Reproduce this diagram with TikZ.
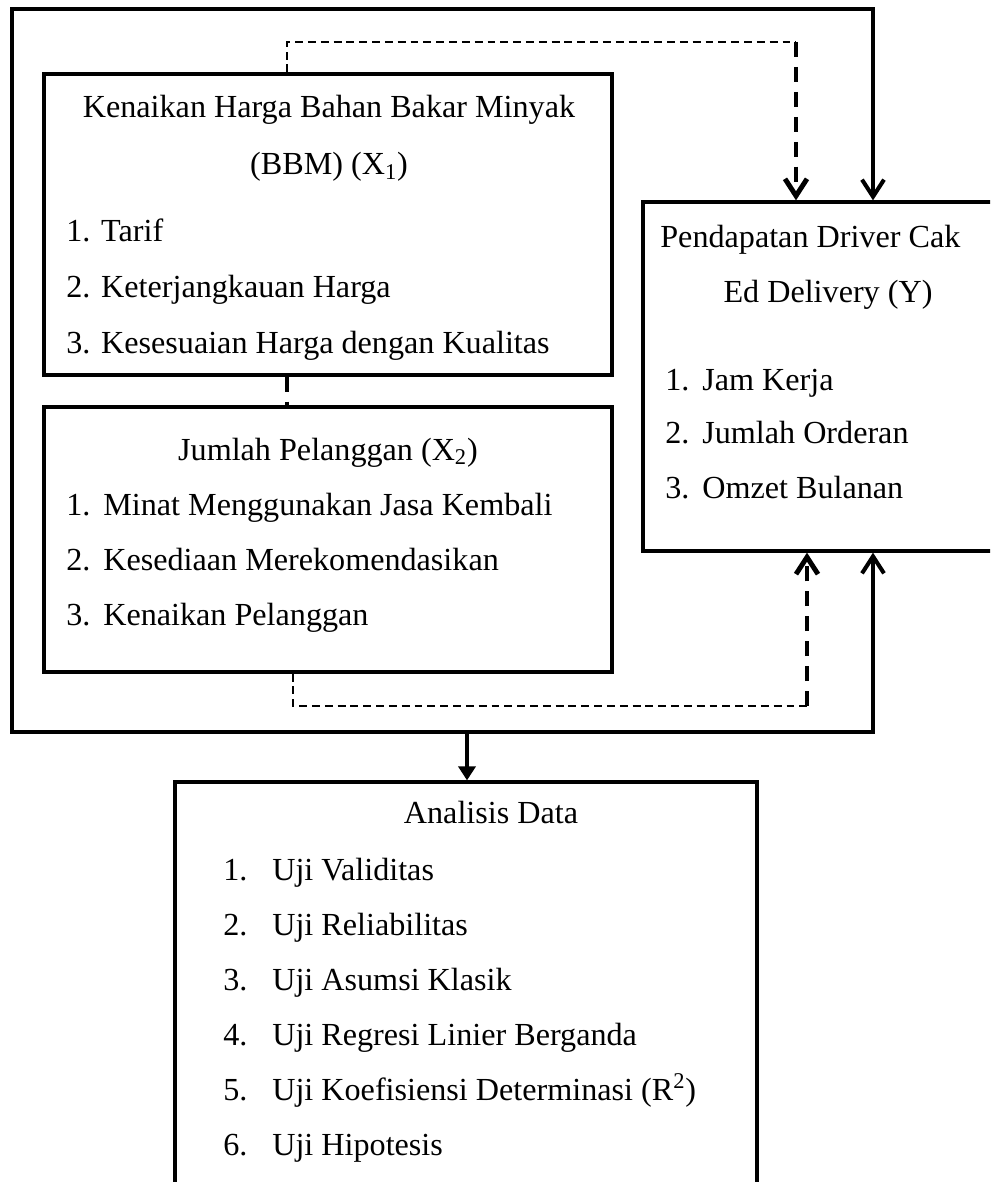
\documentclass[tikz,border=0pt]{standalone}
\usepackage{fontspec}
\setmainfont{Liberation Serif}
\usetikzlibrary{arrows.meta,positioning}
\newcommand{\numlbl}[2]{\makebox[#1][l]{#2}}

\begin{document}
\begin{tikzpicture}[x=0.02cm, y=-0.02cm,
  box/.style={draw, line width=1.9pt, inner sep=0pt},
  lbl/.style={font=\fontsize{18.3}{22}\selectfont, inner sep=0pt, anchor=base west},
  head/.style={lbl, anchor=base},
  frame/.style={line width=2.3pt, line cap=rect},
  openarr/.style={-{Straight Barb[length=0.34cm, width=0.44cm]}},
  fillarr/.style={-{Triangle[length=0.28cm, width=0.34cm]}},
  thindash/.style={line width=1.1pt, dash pattern=on 4.5pt off 2.8pt},
  thickdash/.style={line width=2.8pt, dash pattern=on 8.5pt off 5.7pt}
]
\useasboundingbox (0,0) rectangle (990,1182);
\clip (0,0) rectangle (990,1182);
% Boxes (right and bottom boxes run past the page edge)
\node[box, minimum width=11.36cm, minimum height=6.02cm] (bbm) at (328,224.5) {};
\node[box, minimum width=11.36cm, minimum height=5.3cm] (plg) at (328,539.5) {};
\node[box, minimum width=8cm, minimum height=6.98cm] (pdp) at (843,376.5) {};
\node[box, minimum width=11.64cm, minimum height=9.6cm] (ana) at (466,1022) {};
% X1
\node[head] (bbmt1) at (329,118) {Kenaikan Harga Bahan Bakar Minyak};
\node[head] (bbmt2) at (329,175) {(BBM) (X\textsubscript{1})};
\node[lbl] (bbm1) at (66,242) {1. Tarif};
\node[lbl] (bbm2) at (66,297) {2. Keterjangkauan Harga};
\node[lbl] (bbm3) at (66,353) {3. Kesesuaian Harga dengan Kualitas};
% X2
\node[head] (plgt) at (328,460) {Jumlah Pelanggan (X\textsubscript{2})};
\node[lbl] (plg1) at (66,515) {\numlbl{0.74cm}{1.}Minat Menggunakan Jasa Kembali};
\node[lbl] (plg2) at (66,570) {\numlbl{0.74cm}{2.}Kesediaan Merekomendasikan};
\node[lbl] (plg3) at (66,625) {\numlbl{0.74cm}{3.}Kenaikan Pelanggan};
% Y
\node[lbl] (pdpt1) at (660,248) {Pendapatan Driver Cak};
\node[head] (pdpt2) at (828,302) {Ed Delivery (Y)};
\node[lbl] (pdp1) at (665,390) {\numlbl{0.74cm}{1.}Jam Kerja};
\node[lbl] (pdp2) at (665,443) {\numlbl{0.74cm}{2.}Jumlah Orderan};
\node[lbl] (pdp3) at (665,498) {\numlbl{0.74cm}{3.}Omzet Bulanan};
% Analisis
\node[head] (anat) at (491,823) {Analisis Data};
\node[lbl] (ana1) at (223,880) {\numlbl{0.98cm}{1.}Uji Validitas};
\node[lbl] (ana2) at (223,935) {\numlbl{0.98cm}{2.}Uji Reliabilitas};
\node[lbl] (ana3) at (223,990) {\numlbl{0.98cm}{3.}Uji Asumsi Klasik};
\node[lbl] (ana4) at (223,1045) {\numlbl{0.98cm}{4.}Uji Regresi Linier Berganda};
\node[lbl] (ana5) at (223,1100) {\numlbl{0.98cm}{5.}Uji Koefisiensi Determinasi (R\textsuperscript{2})};
\node[lbl] (ana6) at (223,1155) {\numlbl{0.98cm}{6.}Uji Hipotesis};
% Outer frame: X1 and X2 together
\coordinate (tl) at (12,9);
\coordinate (tr) at (873,9);
\coordinate (bl) at (12,732);
\coordinate (br) at (873,732);
\coordinate (fork) at (467,732);
\draw[frame, openarr] (br) -- (bl) -- (tl) -- (tr) -- (tr |- pdp.north);
\draw[frame, openarr] (br) -- (br |- pdp.south);
\draw[frame, fillarr] (fork) -- (fork |- ana.north);
% Partial effects (dashed)
\coordinate (ta) at (287,42);
\coordinate (tb) at (796,42);
\coordinate (ba) at (293,706);
\coordinate (bb) at (807,706);
\draw[thindash] (ta |- bbm.north) -- (ta) -- (tb);
\draw[thickdash, openarr] (tb) -- (tb |- pdp.north);
\draw[thindash] (ba |- plg.south) -- (ba) -- (bb);
\draw[thickdash, openarr] (bb) -- (bb |- pdp.south);
\draw[thickdash] (bbm.south -| ta) -- (plg.north -| ta);
\end{tikzpicture}
\end{document}
